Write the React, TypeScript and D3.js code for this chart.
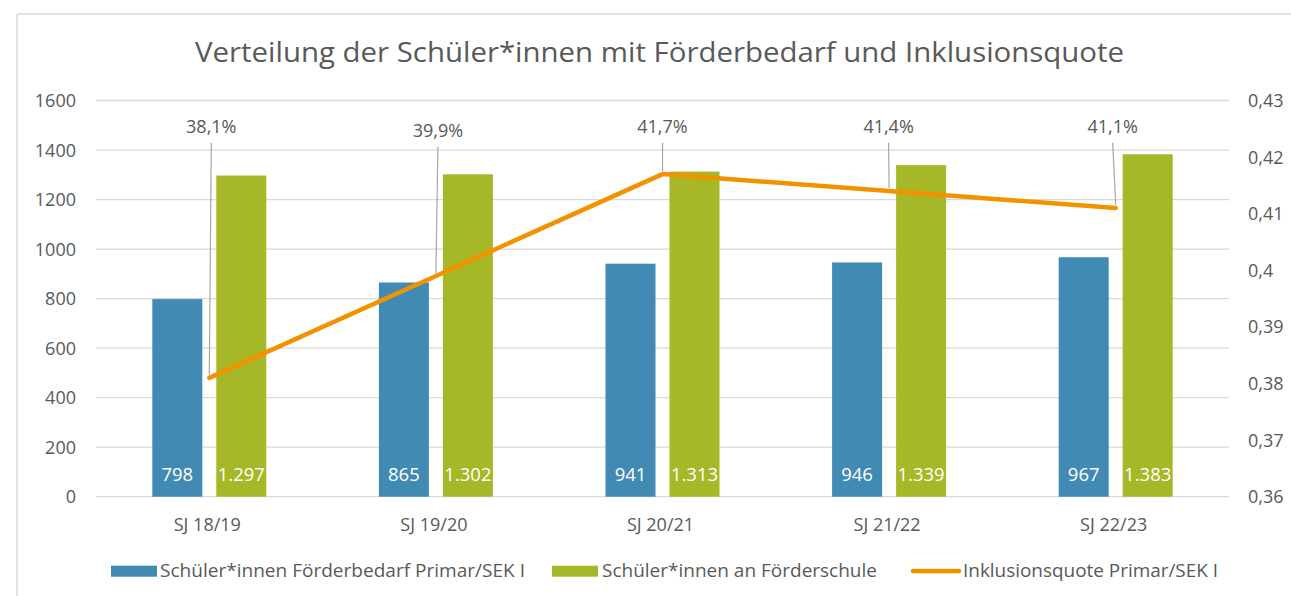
import React from "react";
import * as d3 from "d3";

const categories = ["SJ 18/19", "SJ 19/20", "SJ 20/21", "SJ 21/22", "SJ 22/23"];
const foerderbedarf = [798, 865, 941, 946, 967];
const foerderschule = [1297, 1302, 1313, 1339, 1383];
const inklusionsquote = [0.381, 0.399, 0.417, 0.414, 0.411];
const quoteLabels = ["38,1%", "39,9%", "41,7%", "41,4%", "41,1%"];
const leftTicks = [0, 200, 400, 600, 800, 1000, 1200, 1400, 1600];
const rightTicks = [0.36, 0.37, 0.38, 0.39, 0.4, 0.41, 0.42, 0.43];
const seriesNames = [
  "Schüler*innen Förderbedarf Primar/SEK I",
  "Schüler*innen an Förderschule",
  "Inklusionsquote Primar/SEK I",
];
const title = "Verteilung der Schüler*innen mit Förderbedarf und Inklusionsquote";

const W = 1291;
const H = 596;
const FONT = "'Open Sans', 'Noto Sans', sans-serif";
const TEXT = "#595959";
const GRID = "#D9D9D9";
const BLUE = "#418AB3";
const GREEN = "#A6B727";
const ORANGE = "#F39200";

const plot = { left: 96, right: 1229, top: 100.5, bottom: 496.7 };

const fmtDE = (v: number) => {
  const s = String(v);
  return s.replace(".", ",");
};
const fmtThousands = (v: number) =>
  v >= 1000 ? d3.format(",")(v).replace(/,/g, ".") : String(v);

export default function App() {
  const x = d3
    .scaleBand<string>()
    .domain(categories)
    .range([plot.left, plot.right])
    .paddingInner(0)
    .paddingOuter(0);
  const xSub = d3
    .scaleBand<string>()
    .domain(["a", "b"])
    .range([-57, 57])
    .paddingInner(0.21875)
    .paddingOuter(0);
  const yL = d3.scaleLinear().domain([0, 1600]).range([plot.bottom, plot.top]);
  const yR = d3.scaleLinear().domain([0.36, 0.43]).range([plot.bottom, plot.top]);
  const cx = (c: string) => (x(c) as number) + x.bandwidth() / 2;

  const line = d3
    .line<number>()
    .x((_, i) => cx(categories[i]))
    .y((d) => yR(d));

  // label positions (label anchors above plot)
  const labelDx = [2, 2, 0, -0.5, -3];
  const labelBase = [133.3, 137.3, 133.3, 133.3, 133.3];

  const bw = xSub.bandwidth();

  return (
    <svg
      width={W}
      height={H}
      style={{ position: "absolute", left: 0, top: 0, display: "block", background: "#fff" }}
      fontFamily={FONT}
    >
      {/* frame */}
      <line x1={17} y1={14} x2={W} y2={14} stroke={GRID} strokeWidth={1.5} />
      <line x1={17} y1={14} x2={17} y2={H} stroke={GRID} strokeWidth={1.5} />

      {/* title */}
      <text
        x={659.5}
        y={61.7}
        textAnchor="middle"
        fontSize={28}
        fill={TEXT}
        textLength={929}
        lengthAdjust="spacingAndGlyphs"
      >
        {title}
      </text>

      {/* gridlines */}
      {leftTicks.map((t) => (
        <line
          key={"g" + t}
          x1={plot.left}
          x2={plot.right}
          y1={yL(t)}
          y2={yL(t)}
          stroke={GRID}
          strokeWidth={1.3}
        />
      ))}

      {/* left axis labels */}
      {leftTicks.map((t) => (
        <text
          key={"l" + t}
          x={76}
          y={yL(t)}
          dy="0.36em"
          textAnchor="end"
          fontSize={18}
          fill={TEXT}
        >
          {t}
        </text>
      ))}

      {/* right axis labels */}
      {rightTicks.map((t) => (
        <text
          key={"r" + t}
          x={1248}
          y={yR(t)}
          dy="0.36em"
          textAnchor="start"
          fontSize={18}
          fill={TEXT}
        >
          {fmtDE(+t.toFixed(2))}
        </text>
      ))}

      {/* bars */}
      {categories.map((c, i) => {
        const xb = cx(c) + (xSub("a") as number);
        const xg = cx(c) + (xSub("b") as number);
        return (
          <g key={"b" + c}>
            <rect
              x={xb}
              y={yL(foerderbedarf[i])}
              width={bw}
              height={yL(0) - yL(foerderbedarf[i])}
              fill={BLUE}
            />
            <rect
              x={xg}
              y={yL(foerderschule[i])}
              width={bw}
              height={yL(0) - yL(foerderschule[i])}
              fill={GREEN}
            />
            <text
              x={xb + bw / 2}
              y={481}
              textAnchor="middle"
              fontSize={18.5}
              fill="#fff"
            >
              {fmtThousands(foerderbedarf[i])}
            </text>
            <text
              x={xg + bw / 2}
              y={481}
              textAnchor="middle"
              fontSize={18.5}
              fill="#fff"
            >
              {fmtThousands(foerderschule[i])}
            </text>
          </g>
        );
      })}

      {/* category labels */}
      {categories.map((c) => (
        <text
          key={"c" + c}
          x={cx(c) - 2}
          y={530.7}
          textAnchor="middle"
          fontSize={18}
          fill={TEXT}
        >
          {c}
        </text>
      ))}

      {/* leader lines */}
      {inklusionsquote.map((v, i) => {
        const px = cx(categories[i]);
        const py = yR(v);
        const top = labelBase[i] + 9.5;
        return (
          <line
            key={"ld" + i}
            x1={px + labelDx[i]}
            y1={top}
            x2={px}
            y2={py - 3}
            stroke="#A6A6A6"
            strokeWidth={1.2}
          />
        );
      })}

      {/* line */}
      <path
        d={line(inklusionsquote) as string}
        fill="none"
        stroke={ORANGE}
        strokeWidth={4.5}
        strokeLinejoin="round"
        strokeLinecap="round"
      />

      {/* quote labels */}
      {quoteLabels.map((l, i) => (
        <text
          key={"q" + i}
          x={cx(categories[i]) + labelDx[i]}
          y={labelBase[i]}
          textAnchor="middle"
          fontSize={18}
          fill={TEXT}
        >
          {l}
        </text>
      ))}

      {/* legend */}
      <rect x={111} y={565.7} width={46} height={11} fill={BLUE} />
      <text
        x={160}
        y={577}
        fontSize={18.5}
        fill={TEXT}
        textLength={365}
        lengthAdjust="spacingAndGlyphs"
      >
        {seriesNames[0]}
      </text>
      <rect x={552} y={565.7} width={46} height={11} fill={GREEN} />
      <text
        x={602}
        y={577}
        fontSize={18.5}
        fill={TEXT}
        textLength={275}
        lengthAdjust="spacingAndGlyphs"
      >
        {seriesNames[1]}
      </text>
      <line
        x1={913}
        x2={959}
        y1={571}
        y2={571}
        stroke={ORANGE}
        strokeWidth={4.5}
        strokeLinecap="round"
      />
      <text
        x={963}
        y={577}
        fontSize={18.5}
        fill={TEXT}
        textLength={255}
        lengthAdjust="spacingAndGlyphs"
      >
        {seriesNames[2]}
      </text>
    </svg>
  );
}
